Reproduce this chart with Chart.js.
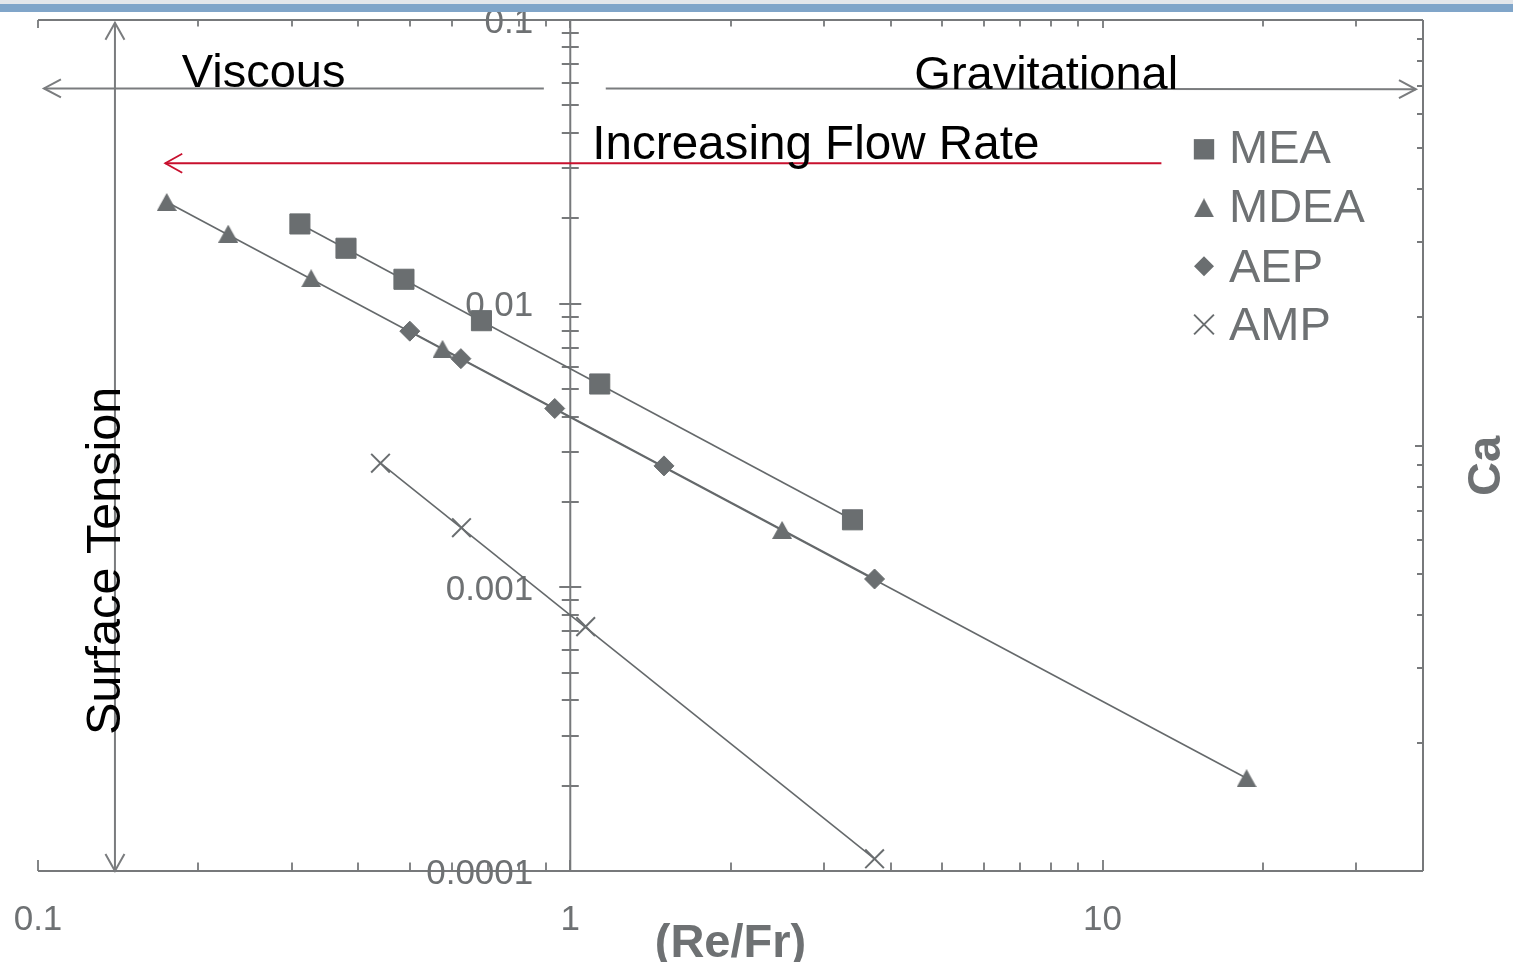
<!DOCTYPE html>
<html><head><meta charset="utf-8">
<script src="https://cdn.jsdelivr.net/npm/chart.js@4"></script>
<style>html,body{margin:0;padding:0;background:#fff;overflow:hidden}canvas{display:block}</style>
</head><body>
<canvas id="c" width="1513" height="962"></canvas>
<script>
// ---- data ----
const seriesNames = ['MEA', 'MDEA', 'AEP', 'AMP'];
const meaX  = [0.3105, 0.379, 0.487, 0.681, 1.136, 3.39];
const meaY  = [0.0191, 0.01568, 0.01219, 0.00871, 0.00521, 0.00173];
const mdeaX = [0.1745, 0.2277, 0.326, 0.5755, 2.50, 18.65];
const mdeaY = [0.02283, 0.01765, 0.01229, 0.00693, 0.001594, 0.0002124];
const aepX  = [0.4995, 0.623, 0.935, 1.50, 3.73];
const aepY  = [0.0080, 0.0064, 0.00427, 0.00268, 0.00107];
const ampX  = [0.440, 0.6246, 1.069, 3.73];
const ampY  = [0.002738, 0.001623, 0.000727, 0.0001104];
const xTickLabels = ['0.1', '1', '10'];
const yTickLabels = ['0.1', '0.01', '0.001', '0.0001'];
const xAxisTitle = '(Re/Fr)';
const yAxisTitle = 'Ca';
const annoTexts = ['Viscous', 'Gravitational', 'Increasing Flow Rate', 'Surface Tension'];

const FONT = "'Liberation Sans', Arial, Helvetica, sans-serif";
const GRAY = '#6a6e70';
const AXIS = '#77797b';
const LABEL = '#6e7173';

function pts(xs, ys) { return xs.map((x, i) => ({x: x, y: ys[i]})); }
function ends(xs, ys) { return [{x: xs[0], y: ys[0]}, {x: xs[xs.length - 1], y: ys[ys.length - 1]}]; }

// triangle marker centred on its bounding box (as in the reference)
function triCanvas(w, h) {
  const c = document.createElement('canvas');
  c.width = w; c.height = h;
  const g = c.getContext('2d');
  g.fillStyle = GRAY;
  g.beginPath(); g.moveTo(w / 2, 0); g.lineTo(w, h); g.lineTo(0, h); g.closePath(); g.fill();
  return c;
}
const triData = triCanvas(20, 18);
const triLegend = triCanvas(20, 19);

const markerStyles = [
  {pointStyle: 'rect', pointRadius: 14.2},
  {pointStyle: triData, pointRadius: 10},
  {pointStyle: 'rectRot', pointRadius: 10},
  {pointStyle: 'crossRot', pointRadius: 13.2}
];
const allX = [meaX, mdeaX, aepX, ampX];
const allY = [meaY, mdeaY, aepY, ampY];

const datasets = [];
seriesNames.forEach((name, i) => {
  datasets.push({
    label: name,
    data: pts(allX[i], allY[i]),
    showLine: false,
    pointStyle: markerStyles[i].pointStyle,
    pointRadius: markerStyles[i].pointRadius,
    pointHoverRadius: markerStyles[i].pointRadius,
    pointBackgroundColor: GRAY,
    pointBorderColor: GRAY,
    pointBorderWidth: i === 3 ? 2 : 1,
    order: 0,
    clip: false
  });
});
seriesNames.forEach((name, i) => {
  datasets.push({
    label: name + ' fit',
    data: ends(allX[i], allY[i]),
    showLine: true,
    pointRadius: 0,
    borderColor: '#65696b',
    borderWidth: 1.6,
    order: 1,
    clip: false
  });
});

function logTicks(min, max) {
  const out = [];
  for (let e = Math.floor(Math.log10(min)) - 1; e <= Math.ceil(Math.log10(max)); e++) {
    for (let m = 1; m <= 9; m++) {
      const v = m * Math.pow(10, e);
      if (v >= min * 0.9999 && v <= max * 1.0001) out.push({v: v, major: m === 1});
    }
  }
  return out;
}

function arrowHead(ctx, tx, ty, ang, len, half) {
  const bx = tx - Math.cos(ang) * len, by = ty - Math.sin(ang) * len;
  const nx = -Math.sin(ang) * half, ny = Math.cos(ang) * half;
  ctx.beginPath();
  ctx.moveTo(bx + nx, by + ny);
  ctx.lineTo(tx, ty);
  ctx.lineTo(bx - nx, by - ny);
  ctx.stroke();
}

function drawMarker(ctx, style, x, y, r) {
  ctx.beginPath();
  if (style === 'rect') {
    const s = Math.SQRT1_2 * r;
    ctx.rect(x - s, y - s, 2 * s, 2 * s);
    ctx.fill();
  } else if (style === 'tri') {
    ctx.drawImage(triLegend, x - triLegend.width / 2, y - triLegend.height / 2);
  } else if (style === 'rectRot') {
    ctx.moveTo(x - r, y); ctx.lineTo(x, y - r); ctx.lineTo(x + r, y); ctx.lineTo(x, y + r);
    ctx.closePath(); ctx.fill();
  } else if (style === 'crossRot') {
    const o = r * Math.SQRT1_2;
    ctx.moveTo(x - o, y - o); ctx.lineTo(x + o, y + o);
    ctx.moveTo(x - o, y + o); ctx.lineTo(x + o, y - o);
    ctx.stroke();
  }
}
const legendStyles = ['rect', 'tri', 'rectRot', 'crossRot'];

const axesPlugin = {
  id: 'axesPlugin',
  beforeDatasetsDraw(chart) {
    const ctx = chart.ctx, a = chart.chartArea;
    const xs = chart.scales.x, ys = chart.scales.y, y2 = chart.scales.y2;
    const yAxisX = xs.getPixelForValue(1);
    ctx.save();
    ctx.strokeStyle = AXIS;
    ctx.lineWidth = 2;
    ctx.lineCap = 'butt';
    ctx.beginPath();
    ctx.moveTo(a.left, a.bottom); ctx.lineTo(a.right, a.bottom);
    ctx.moveTo(a.left, a.top); ctx.lineTo(a.right, a.top);
    ctx.moveTo(a.right, a.top); ctx.lineTo(a.right, a.bottom);
    ctx.moveTo(yAxisX, a.top); ctx.lineTo(yAxisX, a.bottom);
    ctx.stroke();
    ctx.lineWidth = 1.8;
    ctx.beginPath();
    logTicks(xs.min, xs.max).forEach(t => {
      const px = Math.round(xs.getPixelForValue(t.v));
      const L = t.major ? 11 : 8.5;
      ctx.moveTo(px, a.bottom); ctx.lineTo(px, a.bottom - L);
      ctx.moveTo(px, a.top); ctx.lineTo(px, a.top + (t.major ? 8 : 6.5));
    });
    logTicks(ys.min, ys.max).forEach(t => {
      const py = Math.round(ys.getPixelForValue(t.v));
      const L = t.major ? 11 : 8.5;
      ctx.moveTo(yAxisX - L, py); ctx.lineTo(yAxisX + L, py);
    });
    logTicks(y2.min, y2.max).forEach(t => {
      const py = Math.round(y2.getPixelForValue(t.v));
      const L = t.major ? 8 : 6;
      ctx.moveTo(a.right, py); ctx.lineTo(a.right - L, py);
    });
    ctx.stroke();
    ctx.fillStyle = LABEL;
    ctx.font = '35px ' + FONT;
    ctx.textBaseline = 'alphabetic';
    ctx.textAlign = 'center';
    xTickLabels.forEach(s => {
      ctx.fillText(s, xs.getPixelForValue(parseFloat(s)), a.bottom + 59);
    });
    ctx.textAlign = 'right';
    yTickLabels.forEach(s => {
      ctx.fillText(s, yAxisX - 37, ys.getPixelForValue(parseFloat(s)) + 12.5);
    });
    ctx.restore();
  },
  afterDatasetsDraw(chart) {
    const ctx = chart.ctx, a = chart.chartArea;
    const xs = chart.scales.x, ys = chart.scales.y;
    const X = v => xs.getPixelForValue(v), Y = v => ys.getPixelForValue(v);
    ctx.save();
    ctx.lineCap = 'butt';
    ctx.strokeStyle = '#7a7c7e';
    ctx.lineWidth = 2;
    let yv = Y(0.0574);
    ctx.beginPath(); ctx.moveTo(X(0.892), yv); ctx.lineTo(X(0.1026), yv); ctx.stroke();
    arrowHead(ctx, X(0.1026), yv, Math.PI, 17, 9);
    const gy1 = Y(0.0574), gy2 = Y(0.0570);
    ctx.beginPath(); ctx.moveTo(X(1.166), gy1); ctx.lineTo(X(38.8), gy2); ctx.stroke();
    arrowHead(ctx, X(38.8), gy2, Math.atan2(gy2 - gy1, X(38.8) - X(1.166)), 17, 9);
    const vx = X(0.1395);
    ctx.beginPath(); ctx.moveTo(vx, Y(0.0978)); ctx.lineTo(vx, Y(0.0001)); ctx.stroke();
    arrowHead(ctx, vx, Y(0.0978), -Math.PI / 2, 17, 9.5);
    arrowHead(ctx, vx, Y(0.0001), Math.PI / 2, 17, 9.5);
    ctx.strokeStyle = '#c8102e';
    ctx.lineWidth = 1.8;
    const ry = Y(0.03126);
    ctx.beginPath(); ctx.moveTo(X(12.9), ry); ctx.lineTo(X(0.1734), ry); ctx.stroke();
    arrowHead(ctx, X(0.1734), ry, Math.PI, 17, 9.5);
    ctx.fillStyle = '#000';
    ctx.textBaseline = 'alphabetic';
    ctx.textAlign = 'left';
    ctx.font = '47px ' + FONT;
    ctx.fillText(annoTexts[0], X(0.1862), Y(0.0579));
    ctx.fillText(annoTexts[1], X(4.43), Y(0.0570));
    ctx.font = '47.6px ' + FONT;
    ctx.fillText(annoTexts[2], X(1.1), Y(0.0323));
    ctx.save();
    ctx.translate(X(0.1428), Y(0.00124));
    ctx.rotate(-Math.PI / 2);
    ctx.font = '48.6px ' + FONT;
    ctx.textAlign = 'center';
    ctx.fillText(annoTexts[3], 0, 0);
    ctx.restore();
    // legend
    const lx = a.left + 1166, tx = a.left + 1191;
    const baselines = [163.3, 222.3, 281.5, 340];
    const centers = [149.3, 207.8, 266.3, 324.5];
    const radii = [14.4, 0, 10, 14];
    ctx.font = '47px ' + FONT;
    ctx.textAlign = 'left';
    seriesNames.forEach((name, i) => {
      ctx.fillStyle = GRAY; ctx.strokeStyle = GRAY; ctx.lineWidth = 2;
      drawMarker(ctx, legendStyles[i], lx, centers[i], radii[i]);
      ctx.fillStyle = LABEL;
      ctx.fillText(name, tx, baselines[i]);
    });
    ctx.fillStyle = LABEL;
    ctx.font = 'bold 47px ' + FONT;
    ctx.textAlign = 'center';
    ctx.fillText(xAxisTitle, (a.left + a.right) / 2, 957);
    ctx.save();
    ctx.translate(1500, 466);
    ctx.rotate(-Math.PI / 2);
    ctx.fillText(yAxisTitle, 0, 0);
    ctx.restore();
    ctx.restore();
  },
  afterDraw(chart) {
    const ctx = chart.ctx;
    ctx.save();
    ctx.fillStyle = '#e3e6ea';
    ctx.fillRect(0, 0, chart.width, 4);
    ctx.fillStyle = '#80a5c9';
    ctx.fillRect(0, 4, chart.width, 8);
    ctx.restore();
  }
};

new Chart(document.getElementById('c'), {
  type: 'scatter',
  data: {datasets: datasets},
  options: {
    responsive: false,
    animation: false,
    devicePixelRatio: 1,
    layout: {padding: {left: 38, top: 20, right: 90, bottom: 91}},
    plugins: {legend: {display: false}, tooltip: {enabled: false}},
    scales: {
      x: {type: 'logarithmic', min: 0.1, max: 40, display: false},
      y: {type: 'logarithmic', min: 0.0001, max: 0.1, display: false},
      y2: {type: 'logarithmic', min: 0.001, max: 0.1, display: false, position: 'right'}
    }
  },
  plugins: [axesPlugin]
});
</script>
</body></html>
